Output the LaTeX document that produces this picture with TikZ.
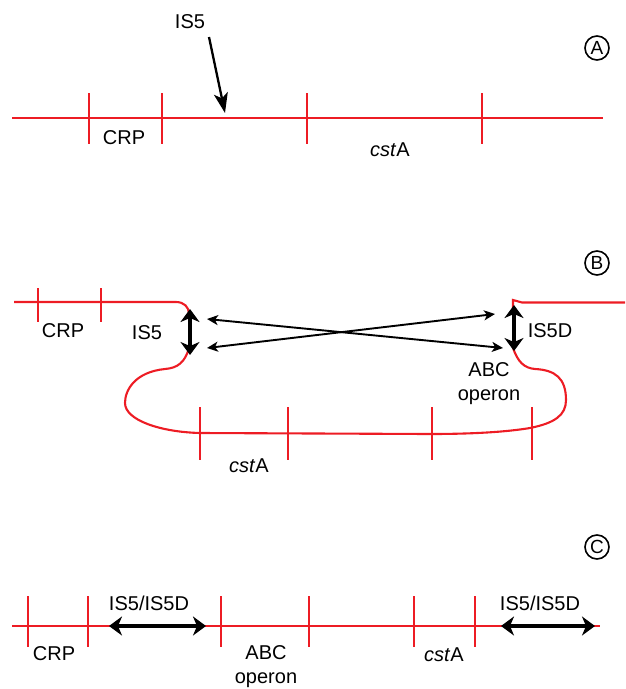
\documentclass[tikz,border=0pt]{standalone}
\usepackage{fontspec}
\setmainfont{Liberation Sans}
\usetikzlibrary{arrows.meta}
\definecolor{dnared}{RGB}{237,28,36}
\begin{document}
\begin{tikzpicture}[x=1pt,y=-1pt,
  dna/.style={draw=dnared,line width=2.1pt},
  tick/.style={draw=dnared,line width=2.1pt},
  lbl/.style={font=\fontsize{20}{24}\selectfont,inner sep=0pt,align=center},
  circ/.style={draw,circle,line width=1.6pt,minimum size=24pt,inner sep=0pt,font=\fontsize{19}{19}\selectfont},
  thin/.style={draw,line width=1.9pt,{Stealth[length=11pt,width=10pt,inset=3pt]}-{Stealth[length=11pt,width=10pt,inset=3pt]}},
  thick/.style={draw,line width=4.5pt,{Stealth[length=13pt,width=19pt,inset=4pt]}-{Stealth[length=13pt,width=19pt,inset=4pt]}},
  ins/.style={draw,line width=2.3pt,-{Stealth[length=20pt,width=14pt,inset=5pt]}}]
\useasboundingbox (0,0) rectangle (625,689);
% ---------- Panel A ----------
\node[circ] (cA) at (597,48) {A};
\draw[dna] (12,118) -- (603,118);
\foreach \x in {89,162,307,482} \draw[tick] (\x,93) -- (\x,144);
\node[lbl] (crpA) at (124,138) {CRP};
\node[lbl] (cstA) at (390,150) {\textit{cst}A};
\node[lbl] (is5A) at (190,22) {IS5};
\coordinate (is5As) at (209,37);
\coordinate (is5At) at (225,113);
\draw[ins] (is5As) -- (is5At);
% ---------- Panel B ----------
\node[circ] (cB) at (597,263) {B};
\draw[dna] (14,302) -- (176,302) .. controls (184,302) and (189,307) .. (189,314);
\foreach \x in {38,101} \draw[tick] (\x,288) -- (\x,322);
\draw[dna] (189,348) .. controls (185,362) and (178,368) .. (165,369)
  .. controls (135,372) and (125,390) .. (125,403)
  .. controls (125,420) and (160,432) .. (200,433)
  -- (430,434)
  .. controls (460,434) and (500,433) .. (530,428)
  .. controls (555,423) and (566,415) .. (566,400)
  .. controls (566,378) and (555,370) .. (535,369)
  .. controls (524,368) and (518,362) .. (513,348);
\draw[dna] (513,310) -- (513,300) -- (522,302.5) -- (625,302.5);
\foreach \x in {200,288,432,532} \draw[tick] (\x,407) -- (\x,460);
\coordinate (l1) at (190,309);
\coordinate (l2) at (190,355);
\coordinate (r1) at (514,305);
\coordinate (r2) at (514,351);
\draw[thick] (l1) -- (l2);
\draw[thick] (r1) -- (r2);
\coordinate (xa) at (207,319);
\coordinate (xb) at (503,348);
\coordinate (xc) at (207,348);
\coordinate (xd) at (495,314);
\draw[thin] (xa) -- (xb);
\draw[thin] (xc) -- (xd);
\node[lbl] (crpB) at (63,331) {CRP};
\node[lbl] (is5B) at (147,333) {IS5};
\node[lbl] (is5D) at (550,331) {IS5D};
\node[lbl] (abcB) at (489,384) {ABC\\operon};
\node[lbl] (cstB) at (249,466) {\textit{cst}A};
% ---------- Panel C ----------
\node[circ] (cC) at (597,547) {C};
\draw[dna] (12,626) -- (600,626);
\foreach \x in {28,88,221,309,414,475} \draw[tick] (\x,596) -- (\x,647);
\coordinate (c1) at (109,626);
\coordinate (c2) at (206,626);
\coordinate (c3) at (501,626);
\coordinate (c4) at (595,626);
\draw[thick] (c1) -- (c2);
\draw[thick] (c3) -- (c4);
\node[lbl] (isC1) at (149,603) {IS5/IS5D};
\node[lbl] (isC2) at (540,603) {IS5/IS5D};
\node[lbl] (crpC) at (54,654) {CRP};
\node[lbl] (abcC) at (266,667) {ABC\\operon};
\node[lbl] (cstC) at (444,655) {\textit{cst}A};
\end{tikzpicture}
\end{document}
